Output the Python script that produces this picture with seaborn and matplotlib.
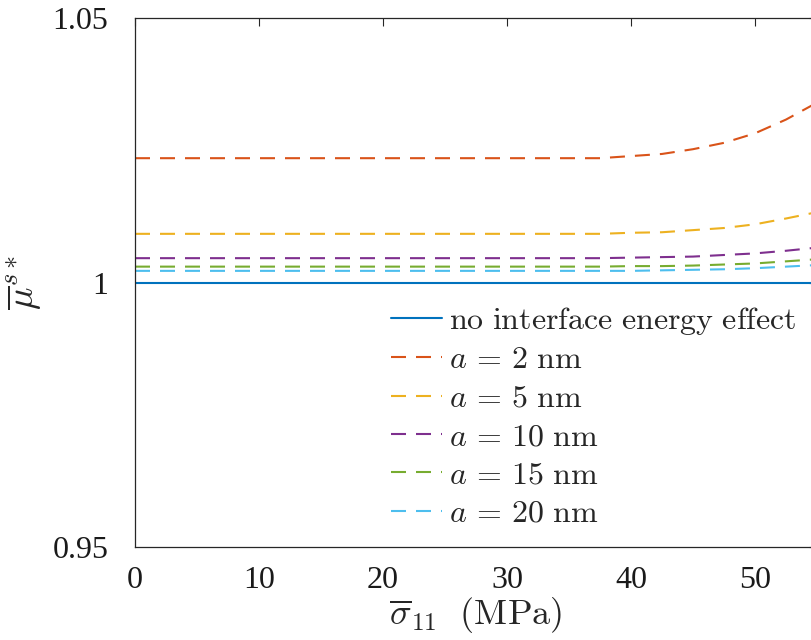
import numpy as np
import pandas as pd
import matplotlib
matplotlib.use("Agg")
import matplotlib.pyplot as plt
import seaborn as sns

# ---- data ----
sigma = [0, 5, 10, 15, 20, 25, 30, 35, 37.5, 40, 42.5, 45, 47.5, 50, 52.5, 55]
no_effect = [1.0] * len(sigma)
a2 = [1.0235] * 9 + [1.0239, 1.0243, 1.0252, 1.0264, 1.0282, 1.0308, 1.0340]
a5 = [1.0092] * 9 + [1.0094, 1.0095, 1.0099, 1.0103, 1.0110, 1.0121, 1.0133]
a10 = [1.0046] * 9 + [1.0047, 1.0048, 1.0049, 1.0052, 1.0055, 1.0060, 1.0066]
a15 = [1.0030] * 9 + [1.0031, 1.0031, 1.0032, 1.0034, 1.0036, 1.0040, 1.0044]
a20 = [1.0022] * 9 + [1.0022, 1.0023, 1.0024, 1.0025, 1.0027, 1.0030, 1.0033]

labels = [r"$\mathrm{no\ interface\ energy\ effect}$",
          r"$a\,=\,2\ \mathrm{nm}$", r"$a\,=\,5\ \mathrm{nm}$",
          r"$a\,=\,10\ \mathrm{nm}$", r"$a\,=\,15\ \mathrm{nm}$",
          r"$a\,=\,20\ \mathrm{nm}$"]
series = [no_effect, a2, a5, a10, a15, a20]
colors = ["#0072BD", "#D95319", "#EDB120", "#7E2F8E", "#77AC30", "#4DBEEE"]

xticks = [0, 10, 20, 30, 40, 50]
yticks = [0.95, 1.0, 1.05]
ytick_labels = ["0.95", "1", "1.05"]

rows = []
for lab, vals in zip(labels, series):
    for x, y in zip(sigma, vals):
        rows.append({"sigma": x, "mu": y, "case": lab})
df = pd.DataFrame(rows)

sns.set_theme(style="white")
plt.rcParams["font.family"] = ["Liberation Serif", "DejaVu Serif"]
plt.rcParams["mathtext.fontset"] = "cm"

fig = plt.figure(figsize=(8.11, 6.4), dpi=100)
ax = fig.add_axes([135 / 811, (640 - 547) / 640, (817 - 135) / 811, (547 - 18) / 640])

for lab, col in zip(labels, colors):
    sub = df[df["case"] == lab]
    ls = "-" if lab == labels[0] else (0, (7.2, 4.8))
    sns.lineplot(data=sub, x="sigma", y="mu", ax=ax, color=col, lw=1.5,
                 linestyle=ls, label=lab)

ax.set_xlim(0, 55)
ax.set_ylim(0.95, 1.05)
ax.set_xticks(xticks)
ax.set_xticklabels([str(t) for t in xticks])
ax.set_yticks(yticks)
ax.set_yticklabels(ytick_labels)
ax.tick_params(direction="in", length=6, width=0.8, colors="#262626",
               labelsize=23, top=True, right=True, labelcolor="#1a1a1a")
ax.tick_params(axis="y", pad=19)
ax.tick_params(axis="x", pad=14)
for s in ax.spines.values():
    s.set_color("#262626")
    s.set_linewidth(0.9)

ax.set_xlabel(r"$\overline{\sigma}_{11}\ \ \mathrm{(MPa)}$", fontsize=26, labelpad=0)
ax.set_ylabel(r"$\overline{\mu}^{s*}$", fontsize=27, labelpad=6)

leg = ax.legend(loc="upper left", bbox_to_anchor=((388 - 135) / 682, 1 - (302 - 18) / 529),
                frameon=False, fontsize=23, handlelength=1.6, handletextpad=0.2,
                labelspacing=0.28, borderaxespad=0, borderpad=0.1)

fig.savefig("out.png", dpi=100)
